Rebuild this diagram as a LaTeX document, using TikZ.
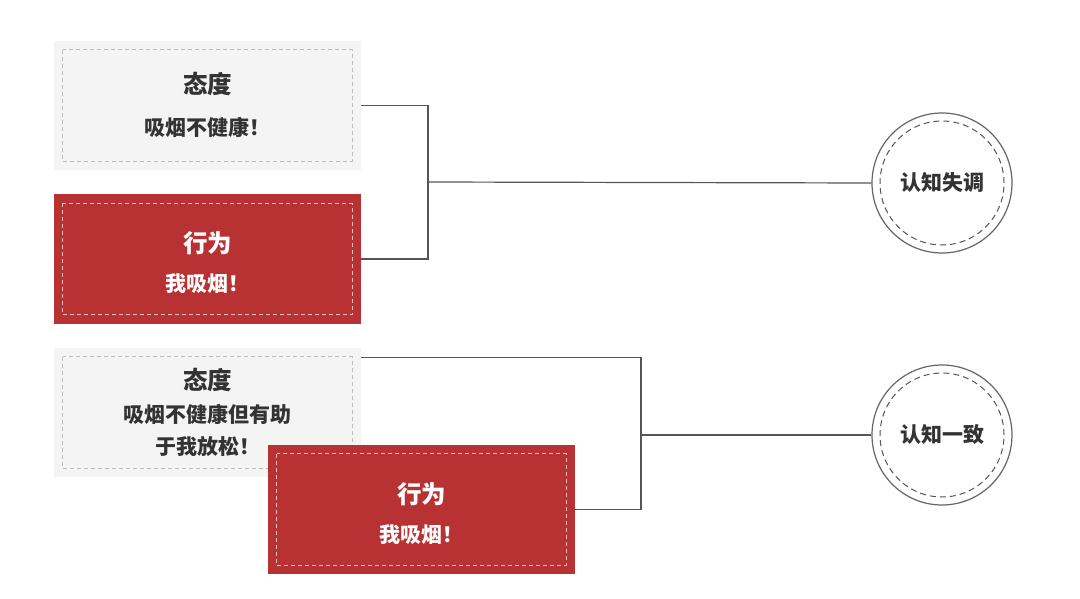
\documentclass[tikz,border=0pt]{standalone}
\usepackage{fontspec}
\newfontfamily\cjk{Noto Sans CJK SC}
\definecolor{boxgray}{HTML}{F4F4F4}
\definecolor{dashgray}{HTML}{BDBDBD}
\definecolor{boxred}{HTML}{B83234}
\definecolor{dashred}{HTML}{E8C0C0}
\definecolor{txt}{HTML}{333333}
\definecolor{linec}{HTML}{555555}
\tikzset{
  graybox/.style={rectangle, fill=boxgray, minimum width=307pt, minimum height=129pt, inner sep=0pt},
  redbox/.style={rectangle, fill=boxred, minimum width=307pt, minimum height=129pt, inner sep=0pt},
  innerdash/.style={dash pattern=on 4pt off 3pt, line width=0.9pt},
  circdash/.style={dash pattern=on 6pt off 4pt, line width=1pt},
  titletxt/.style={font=\cjk\bfseries\fontsize{24.5}{28}\selectfont, inner sep=0pt, anchor=center},
  bodytxt/.style={font=\cjk\bfseries\fontsize{21}{25}\selectfont, inner sep=0pt, anchor=center},
  conn/.style={draw=linec, line width=1.2pt},
  outcircle/.style={circle, draw=linec!90, line width=1.2pt, minimum size=140pt, inner sep=0pt, fill=white,
    font=\cjk\bfseries\fontsize{21}{24}\selectfont, text=txt},
}
\begin{document}
\begin{tikzpicture}[x=1pt,y=-1pt]
\useasboundingbox[fill=white] (0,0) rectangle (1080,599);

% junctions
\coordinate (j1) at (428,182);
\coordinate (j2) at (641,435);

% circles
\node[outcircle] (c1) at (942,183) {认知失调};
\draw[linec, circdash] (c1.center) circle (62pt);
\node[outcircle] (c2) at (942,435) {认知一致};
\draw[linec, circdash] (c2.center) circle (62pt);

% top pair
\node[graybox] (a1) at (207.5,105.5) {};
\draw[dashgray, innerdash] ([shift={(9,9)}]a1.north west) rectangle ([shift={(-9,-9)}]a1.south east);
\node[titletxt, text=txt] (a1t) at (207.5,84.5) {态度};
\node[bodytxt, text=txt] (a1b) at (207.5,127) {吸烟不健康！};

\node[redbox] (b1) at (207.5,259) {};
\draw[dashred, innerdash] ([shift={(9,9)}]b1.north west) rectangle ([shift={(-9,-9)}]b1.south east);
\node[titletxt, text=white] (b1t) at (207.5,243) {行为};
\node[bodytxt, text=white] (b1b) at (207.5,284) {我吸烟！};

\draw[conn] (a1.east) -| (j1) |- (b1.east);
\draw[conn] (j1) -- (c1.west);

% bottom pair
\node[graybox] (a2) at (207.5,412.5) {};
\draw[dashgray, innerdash] ([shift={(9,9)}]a2.north west) rectangle ([shift={(-9,-9)}]a2.south east);
\node[titletxt, text=txt] (a2t) at (207.5,380) {态度};
\node[bodytxt, text=txt] (a2b) at (207.5,414) {吸烟不健康但有助};
\node[bodytxt, text=txt] (a2c) at (207.5,447) {于我放松！};
\coordinate (a2r) at ([yshift=-10pt]a2.north east);

\node[redbox] (b2) at (421.5,509.5) {};
\draw[dashred, innerdash] ([shift={(9,9)}]b2.north west) rectangle ([shift={(-9,-9)}]b2.south east);
\node[titletxt, text=white] (b2t) at (421.5,494) {行为};
\node[bodytxt, text=white] (b2b) at (421.5,535) {我吸烟！};

\draw[conn] (a2r) -| (j2) |- (b2.east);
\draw[conn] (j2) -- (c2.west);
\end{tikzpicture}
\end{document}
